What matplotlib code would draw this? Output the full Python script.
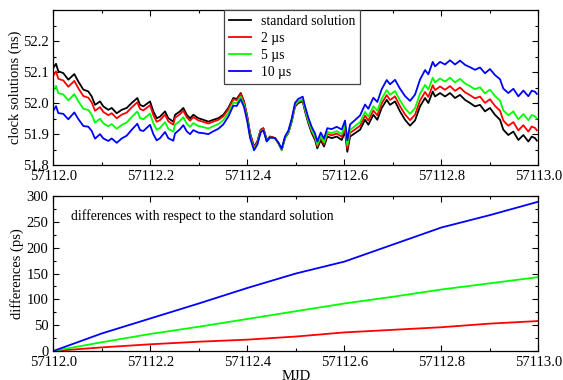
import numpy as np
import matplotlib
matplotlib.use('Agg')
import matplotlib.pyplot as plt
from matplotlib.ticker import MultipleLocator

# 01. data

mjd0 = 57112.0

# standard solution (top panel, black): day fraction after MJD 57112.0 and clock value (ns)
std_t = [0.000, 0.0056, 0.0103, 0.0206, 0.0309, 0.0433, 0.0515, 0.0619, 0.0722, 0.0792,
         0.0860, 0.0963, 0.1031, 0.1134, 0.1204, 0.1307, 0.1410, 0.1513, 0.1616, 0.1732,
         0.1788, 0.1856, 0.1994, 0.2062, 0.2132, 0.2200, 0.2303, 0.2371, 0.2474, 0.2509,
         0.2612, 0.2680, 0.2751, 0.2819, 0.2887, 0.2990, 0.3093, 0.3196, 0.3299, 0.3402,
         0.3505, 0.3608, 0.3711, 0.3781, 0.3864, 0.3932, 0.4000, 0.4056, 0.4138, 0.4206,
         0.4276, 0.4330, 0.4400, 0.4468, 0.4571, 0.4639, 0.4709, 0.4777, 0.4845, 0.4915,
         0.4984, 0.5052, 0.5142, 0.5190, 0.5258, 0.5328, 0.5396, 0.5443, 0.5513, 0.5581,
         0.5649, 0.5740, 0.5843, 0.5946, 0.6014, 0.6062, 0.6118, 0.6221, 0.6324, 0.6427,
         0.6495, 0.6598, 0.6680, 0.6771, 0.6874, 0.6942, 0.7045, 0.7148, 0.7251, 0.7355,
         0.7458, 0.7561, 0.7664, 0.7732, 0.7823, 0.7870, 0.7973, 0.8076, 0.8179, 0.8282,
         0.8385, 0.8488, 0.8591, 0.8694, 0.8797, 0.8900, 0.9003, 0.9106, 0.9210, 0.9278,
         0.9381, 0.9485, 0.9588, 0.9691, 0.9794, 0.9864, 0.9932, 0.9970]
std_ns = [52.114, 52.127, 52.103, 52.097, 52.076, 52.094, 52.070, 52.044, 52.038, 52.022,
          51.995, 52.006, 51.990, 51.979, 51.985, 51.968, 51.979, 51.985, 52.001, 52.017,
          51.995, 51.990, 52.006, 51.974, 51.952, 51.957, 51.974, 51.952, 51.941, 51.963,
          51.974, 51.985, 51.963, 51.952, 51.963, 51.952, 51.947, 51.941, 51.947, 51.952,
          51.963, 51.985, 52.017, 52.014, 52.033, 52.006, 51.957, 51.904, 51.861, 51.877,
          51.915, 51.920, 51.882, 51.893, 51.888, 51.872, 51.850, 51.888, 51.904, 51.941,
          51.990, 52.001, 52.006, 51.974, 51.936, 51.904, 51.882, 51.855, 51.882, 51.861,
          51.893, 51.888, 51.893, 51.882, 51.909, 51.844, 51.893, 51.904, 51.915, 51.947,
          51.931, 51.963, 51.947, 51.985, 52.011, 51.995, 52.006, 51.974, 51.947, 51.928,
          51.945, 51.990, 52.017, 52.001, 52.038, 52.022, 52.033, 52.022, 52.033, 52.017,
          52.027, 52.011, 52.001, 51.990, 51.995, 51.974, 51.985, 51.963, 51.947, 51.915,
          51.898, 51.909, 51.882, 51.898, 51.877, 51.893, 51.888, 51.880]

# differences with respect to the standard solution (bottom panel, ps)
diff_t = [0.0, 0.1, 0.2, 0.3, 0.4, 0.5, 0.6, 0.7, 0.8, 0.9, 1.0]
diff_2us = [0, 7, 13, 18, 22, 28, 36, 41, 46, 53, 58]
diff_5us = [0, 17, 33, 47, 62, 77, 92, 105, 119, 131, 143]
diff_10us = [0, 34, 63, 92, 122, 150, 173, 206, 239, 263, 289]

# shift of each solution relative to the standard one in the top panel (ps)
top_offset_ps = [25, 72, 138]

labels = ['standard solution', '2 µs', '5 µs', '10 µs']
colors = ['#000000', '#ff0000', '#00ff00', '#0000ff']

# 01. end data

plt.rcParams['font.family'] = ['Liberation Serif', 'DejaVu Serif']
plt.rcParams['font.size'] = 10.5

std_x = mjd0 + np.array(std_t)
std_y = np.array(std_ns)
diff_x = mjd0 + np.array(diff_t)
diffs = [diff_2us, diff_5us, diff_10us]

fig = plt.figure(figsize=(5.63, 3.80), dpi=100)
ax1 = fig.add_axes([0.0947, 0.5645, 0.8615, 0.4092])
ax2 = fig.add_axes([0.0947, 0.0763, 0.8615, 0.4079])

# top panel: clock solutions
ax1.plot(std_x, std_y, color=colors[0], lw=1.3, label=labels[0])
for i in range(3):
    shifted = std_y + (np.interp(std_x, diff_x, diffs[i]) - top_offset_ps[i]) / 1000.0
    ax1.plot(std_x, shifted, color=colors[i + 1], lw=1.3, label=labels[i + 1])

# bottom panel: differences
for i in range(3):
    ax2.plot(diff_x, diffs[i], color=colors[i + 1], lw=1.3)

ax1.set_xlim(57112.0, 57113.0)
ax1.set_ylim(51.8, 52.3)
ax1.set_yticks([51.8, 51.9, 52.0, 52.1, 52.2])
ax1.yaxis.set_minor_locator(MultipleLocator(0.05))
ax1.set_ylabel('clock solutions (ns)', labelpad=0.5)

ax2.set_xlim(57112.0, 57113.0)
ax2.set_ylim(0, 300)
ax2.yaxis.set_major_locator(MultipleLocator(50))
ax2.yaxis.set_minor_locator(MultipleLocator(25))
ax2.set_ylabel('differences (ps)', labelpad=2)
ax2.set_xlabel('MJD', labelpad=1)

for ax in (ax1, ax2):
    ax.set_xticks([57112.0, 57112.2, 57112.4, 57112.6, 57112.8, 57113.0])
    ax.set_xticklabels(['57112.0', '57112.2', '57112.4', '57112.6', '57112.8', '57113.0'])
    ax.xaxis.set_minor_locator(MultipleLocator(0.1))
    ax.tick_params(which='both', direction='in', top=True, right=True, pad=3.5)
    ax.tick_params(which='major', length=4.5, width=0.8)
    ax.tick_params(which='minor', length=2.3, width=0.8)
    for s in ax.spines.values():
        s.set_linewidth(0.9)

leg = ax1.legend(loc='upper left', bbox_to_anchor=(0.352, 1.0), fontsize=9.8,
                 frameon=True, fancybox=False, framealpha=1, edgecolor='#444444',
                 handlelength=1.65, handletextpad=0.7, borderaxespad=0,
                 borderpad=0.35, labelspacing=0.3)
leg.get_frame().set_linewidth(0.9)

ax2.text(0.036, 0.873, 'differences with respect to the standard solution',
         transform=ax2.transAxes, fontsize=9.8, va='center', ha='left')

fig.savefig('out.png', dpi=100)
